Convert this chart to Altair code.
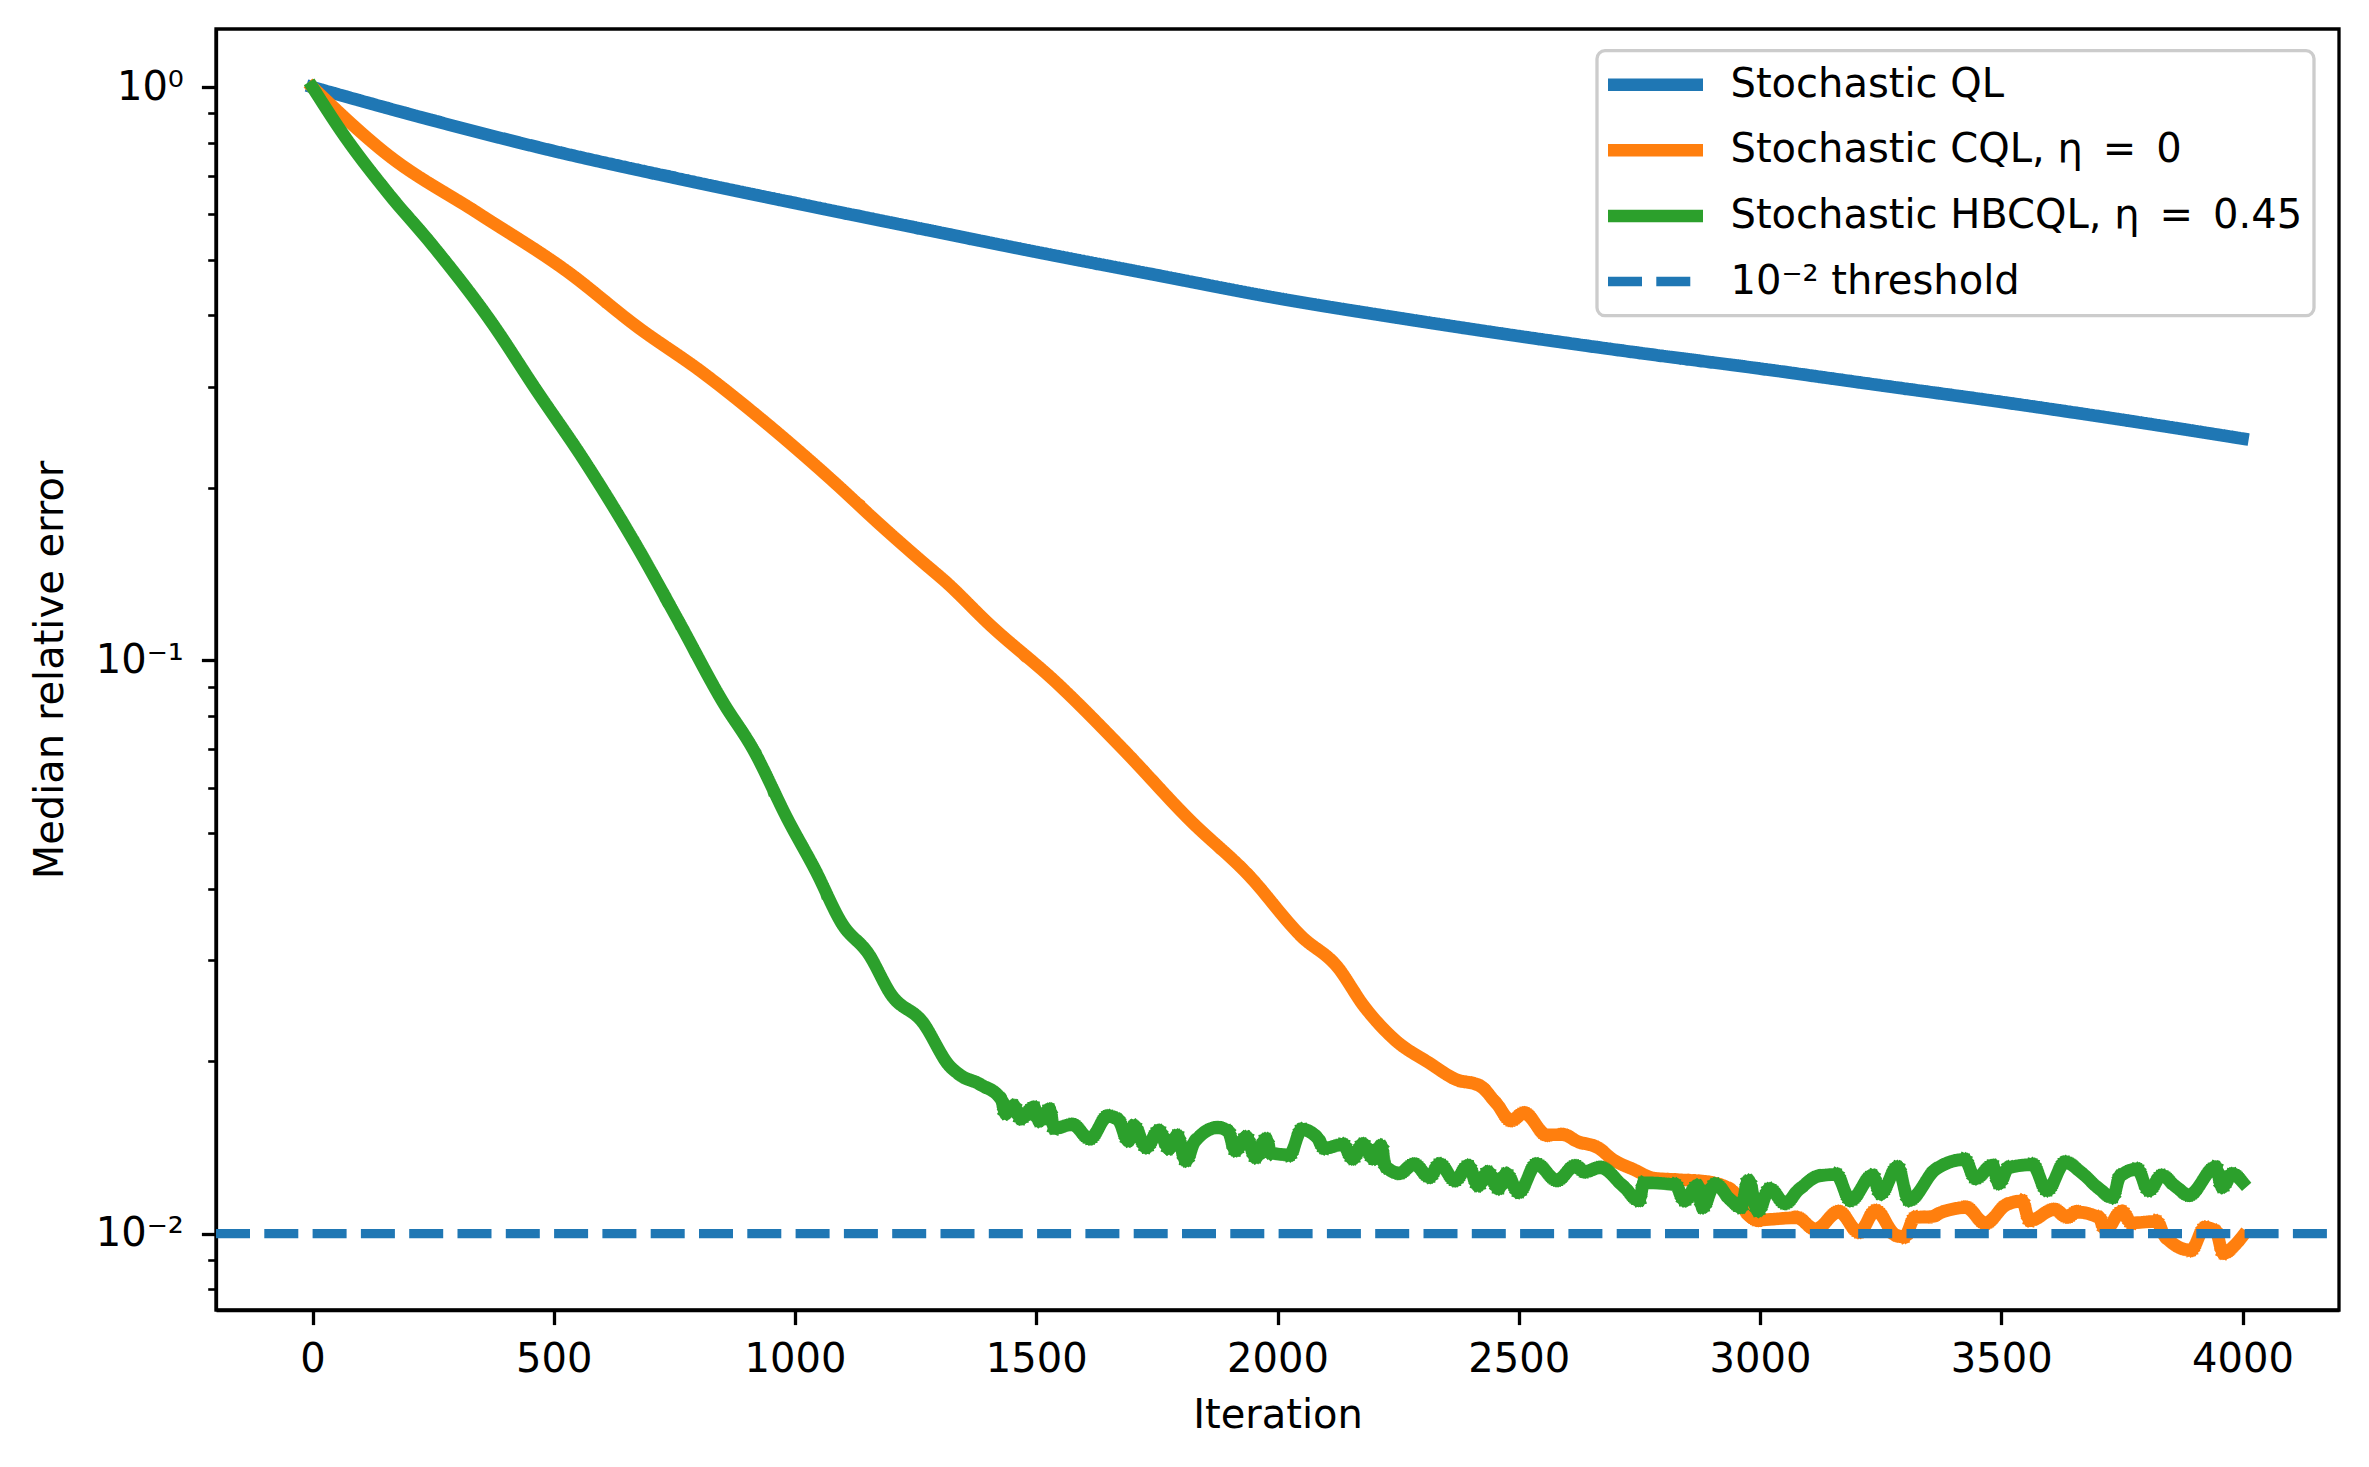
import altair as alt
import pandas as pd

# ---- data -------------------------------------------------------------
QL_ITER = [0, 250, 500, 750, 1000, 1250, 1500, 1750, 2000, 2250, 2500,
           2750, 3000, 3250, 3500, 3750, 4000]
QL_ERR = [1.0, 0.875, 0.774, 0.695, 0.628, 0.569, 0.516, 0.470, 0.4285,
          0.396, 0.368, 0.344, 0.323, 0.302, 0.2825, 0.263, 0.2438]

CQL_ITER = [0, 157, 343, 528, 675, 806, 934, 1083, 1175, 1264, 1313, 1403,
            1541, 1680, 1819, 1939, 2050, 2124, 2180, 2243, 2315, 2368,
            2421, 2453, 2484, 2511, 2559, 2590, 2623, 2665, 2696, 2739, 2781,
            2834, 2887, 2939, 2980, 2996, 3075, 3115,
            3163, 3205, 3240, 3281, 3298, 3322, 3356, 3377, 3426, 3467, 3511,
            3542, 3560, 3609, 3637, 3657, 3702, 3716, 3750, 3771, 3820, 3840,
            3892, 3923, 3944, 3961, 3985, 4000]
CQL_ERR = [1.0, 0.761, 0.603, 0.477, 0.381, 0.319, 0.262, 0.204, 0.173,
           0.1486, 0.137, 0.1156, 0.0916, 0.070, 0.0526, 0.0423, 0.0330,
           0.0292, 0.0249, 0.0218, 0.01984, 0.01862, 0.01806, 0.0169,
           0.0158, 0.0162, 0.01488, 0.01488, 0.01448, 0.0141, 0.01346, 0.01293,
           0.0125, 0.01242, 0.01233, 0.01193, 0.01072, 0.01057, 0.01066,
           0.0102, 0.0109, 0.01009, 0.01094, 0.00996, 0.00989, 0.01066,
           0.01072, 0.0109, 0.0111, 0.01045, 0.01123, 0.01139, 0.01057,
           0.0110, 0.01072, 0.0109, 0.01066, 0.0102, 0.0109, 0.01045, 0.0105,
           0.00989, 0.00937, 0.01023, 0.01009, 0.00927, 0.00957, 0.0099]

HBCQL_ITER = [0, 65, 157, 251, 371, 463, 565, 667, 759, 851, 913, 986,
              1042, 1098, 1153, 1200, 1264, 1321, 1342, 1385, 1427, 1437,
              1453, 1468, 1495, 1506, 1527, 1538, 1574, 1611, 1649, 1669,
              1691, 1702, 1728, 1754, 1775, 1792, 1810, 1829, 1876, 1897,
              1913, 1935, 1955, 1976, 1987, 2024, 2051, 2082, 2098, 2135,
              2156, 2177, 2199, 2214, 2225, 2252, 2283, 2315, 2336, 2368,
              2395, 2416, 2436, 2458, 2474, 2500, 2537, 2579, 2617, 2637,
              2669, 2717, 2749, 2760, 2823, 2844, 2870, 2881, 2907, 2939,
              2960, 2976, 2996, 3020, 3052, 3081, 3122, 3157, 3188, 3233,
              3250, 3285, 3309, 3364, 3423, 3447, 3482, 3495, 3516, 3564,
              3595, 3633, 3667, 3702, 3730, 3747, 3781, 3806, 3833, 3861,
              3889, 3944, 3958, 3979, 4000]
HBCQL_ERR = [1.0, 0.825, 0.653, 0.527, 0.389, 0.297, 0.222, 0.161, 0.117,
             0.0845, 0.070, 0.0526, 0.0431, 0.0347, 0.0307, 0.0261,
             0.0234, 0.0196, 0.01893, 0.01819, 0.01714, 0.01626, 0.01667,
             0.01592, 0.01657, 0.01578, 0.01643, 0.01529, 0.01548, 0.01469,
             0.01601, 0.0158, 0.01458, 0.01538, 0.01419, 0.01508, 0.01412,
             0.01478, 0.01346, 0.01448, 0.0153, 0.01508, 0.01401, 0.0147,
             0.01363, 0.01458, 0.01384, 0.01373, 0.01518, 0.0147, 0.01412,
             0.01429, 0.01356, 0.01429, 0.01356, 0.01419, 0.0131, 0.01277,
             0.01319, 0.01259, 0.01319, 0.01242, 0.0131, 0.01217, 0.01277,
             0.01203, 0.01268, 0.01185, 0.01319, 0.01242, 0.0131, 0.01285,
             0.01303, 0.01209, 0.01146, 0.01227, 0.01217, 0.01146, 0.01209,
             0.01115, 0.01217, 0.01146, 0.01115, 0.01233, 0.0110, 0.01194,
             0.01133, 0.01194, 0.0126, 0.01268, 0.01147, 0.0126, 0.01178,
             0.01303, 0.01147, 0.01294, 0.01346, 0.01253, 0.01312, 0.01228,
             0.01303, 0.01319, 0.01194, 0.0133, 0.01276, 0.0120, 0.0116,
             0.0126, 0.01294, 0.01194, 0.0126, 0.0121, 0.0117, 0.01303,
             0.0121, 0.01268, 0.0123]

THRESHOLD = 0.01
X_DOMAIN = [-200, 4200]
Y_DOMAIN = [0.00736, 1.2635]
X_TICKS = [0, 500, 1000, 1500, 2000, 2500, 3000, 3500, 4000]
Y_MAJOR = [1, 0.1, 0.01]
Y_TICKS = [1, 0.9, 0.8, 0.7, 0.6, 0.5, 0.4, 0.3, 0.2,
           0.1, 0.09, 0.08, 0.07, 0.06, 0.05, 0.04, 0.03, 0.02,
           0.01, 0.009, 0.008]
Y_LABELS = {1: "10⁰", 0.1: "10⁻¹", 0.01: "10⁻²"}

SERIES = ["Stochastic QL", "Stochastic CQL, η\u2002=\u20020",
          "Stochastic HBCQL, η\u2002=\u20020.45", "10⁻² threshold"]
COLORS = ["#1f77b4", "#ff7f0e", "#2ca02c", "#1f77b4"]
DASHES = [[1, 0], [1, 0], [1, 0], [34, 14.3]]
WIDTHS = [12.5, 12.5, 12.5, 9.3]

# ---- long table ---------------------------------------------------------
frames = []
for name, xs, ys in [(SERIES[0], QL_ITER, QL_ERR),
                     (SERIES[1], CQL_ITER, CQL_ERR),
                     (SERIES[2], HBCQL_ITER, HBCQL_ERR),
                     (SERIES[3], X_DOMAIN, [THRESHOLD, THRESHOLD])]:
    frames.append(pd.DataFrame({"iter": xs, "err": ys, "series": name}))
df = pd.concat(frames, ignore_index=True)

FONT = "DejaVu Sans"
FS = 40

legend = alt.Legend(
    title=None, orient="none", legendX=1381, legendY=21.7,
    symbolType="stroke", symbolSize=95 * 95, symbolOffset=-6.5,
    labelFont=FONT, labelFontSize=FS, labelColor="black", labelLimit=0,
    labelOffset=21, padding=11, rowPadding=19.6, clipHeight=46,
    fillColor="rgba(255,255,255,0.8)", strokeColor="#cccccc",
    cornerRadius=8,
)

major_test = " || ".join(f"datum.value == {v}" for v in Y_MAJOR)
label_expr = "".join(f"datum.value == {k} ? '{v}' : " for k, v in Y_LABELS.items()) + "''"

x_enc = alt.X(
    "iter:Q",
    scale=alt.Scale(domain=X_DOMAIN, nice=False, zero=False),
    axis=alt.Axis(values=X_TICKS, format="d", title="Iteration", grid=False,
                  tickSize=14.6, tickWidth=3.3, labelPadding=14.7,
                  labelFontSize=FS, titleFontSize=FS, titleFontWeight="normal",
                  titleBaseline="alphabetic", titleY=117,
                  labelFlush=False, labelOverlap=False),
)
y_enc = alt.Y(
    "err:Q",
    scale=alt.Scale(type="log", domain=Y_DOMAIN, nice=False),
    axis=alt.Axis(values=Y_TICKS, labelExpr=label_expr, title="Median relative error",
                  grid=False,
                  tickSize={"condition": {"test": major_test, "value": 14.6}, "value": 8.3},
                  tickWidth={"condition": {"test": major_test, "value": 3.3}, "value": 2.6},
                  labelPadding=18, labelFontSize=FS, labelBaseline="middle",
                  titleFontSize=FS, titleFontWeight="normal",
                  titleBaseline="alphabetic", titleAngle=270, titleAlign="center",
                  titleX=-154, titleY=640.5, labelOverlap=False, labelFlush=False),
)

base = alt.Chart(df).encode(
    x=x_enc,
    y=y_enc,
    color=alt.Color("series:N", scale=alt.Scale(domain=SERIES, range=COLORS), legend=legend),
    strokeDash=alt.StrokeDash("series:N", scale=alt.Scale(domain=SERIES, range=DASHES), legend=legend),
    strokeWidth=alt.StrokeWidth("series:N",
                                scale=alt.Scale(type="ordinal", domain=SERIES, range=WIDTHS),
                                legend=legend),
)

layers = []
for name in SERIES:
    cap = "butt" if name == SERIES[3] else "square"
    layers.append(
        base.mark_line(strokeCap=cap, strokeJoin="round", interpolate="monotone")
        .transform_filter(alt.datum.series == name)
    )

chart = (
    alt.layer(*layers)
    .properties(
        width=2123, height=1281,
        autosize=alt.AutoSizeParams(type="none"),
        padding={"left": 216, "top": 29, "right": 30, "bottom": 157},
        background="white",
    )
    .configure(font=FONT)
    .configure_view(stroke="black", strokeWidth=3.3)
    .configure_axis(domainColor="black", domainWidth=3.3, tickColor="black",
                    labelColor="black", titleColor="black", labelFont=FONT, titleFont=FONT)
    .configure_legend(strokeWidth=3.3)
)

chart.save("out.html", embed_options={"renderer": "svg", "actions": False})
